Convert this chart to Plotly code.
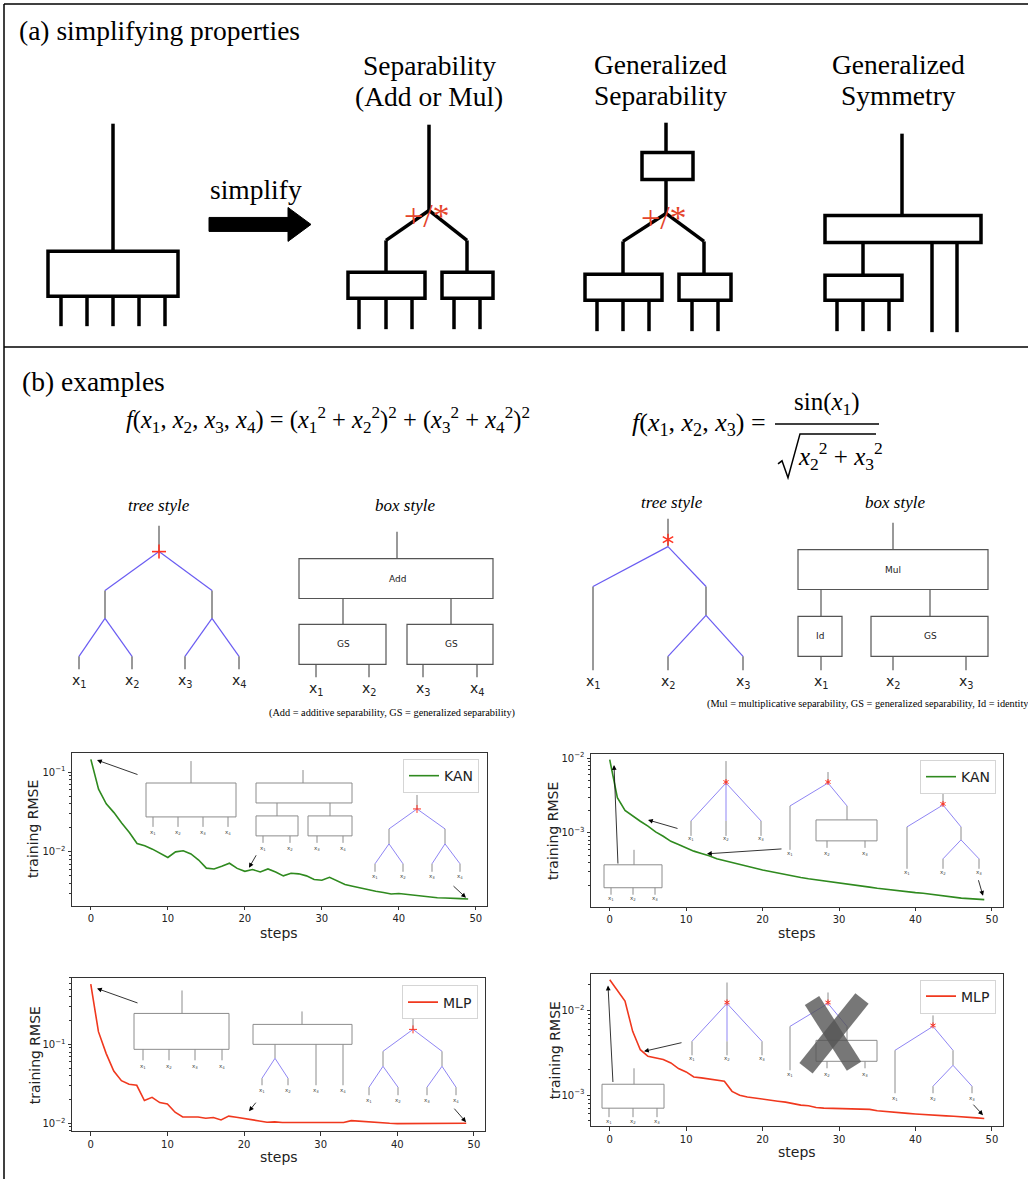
import plotly.graph_objects as go

W, H = 1028, 1179
SERIF = "Liberation Serif"
SANS = "DejaVu Sans"

# ---------------- data ----------------
steps = list(range(50))
x_ticks = [0, 10, 20, 30, 40, 50]

kan_sep = [0.144, 0.061, 0.040, 0.031, 0.023, 0.0175, 0.0127, 0.0119, 0.0108, 0.0096,
           0.0085, 0.0100, 0.0103, 0.0094, 0.0079, 0.00625, 0.0061, 0.0066, 0.0072, 0.0062,
           0.0057, 0.0060, 0.0056, 0.0061, 0.0056, 0.0050, 0.0054, 0.0053, 0.0050, 0.0045,
           0.0044, 0.0048, 0.0043, 0.0039, 0.0037, 0.0035, 0.00335, 0.0032, 0.0031, 0.00296,
           0.0030, 0.00293, 0.0028, 0.00277, 0.0027, 0.00266, 0.00264, 0.00259, 0.00259, 0.00256]

kan_sin = [0.0095, 0.00296, 0.0020, 0.00167, 0.00143, 0.00123, 0.00103, 0.00090, 0.00077, 0.00070,
           0.00063, 0.00057, 0.00053, 0.000495, 0.00045, 0.000425, 0.000403, 0.000375, 0.000352, 0.000335,
           0.000318, 0.000305, 0.00029, 0.000281, 0.000267, 0.000253, 0.000243, 0.000236, 0.000226, 0.000219,
           0.000212, 0.000206, 0.0002, 0.000194, 0.000188, 0.000182, 0.000177, 0.000169, 0.000166, 0.000163,
           0.000159, 0.000156, 0.000151, 0.000147, 0.000141, 0.000136, 0.000134, 0.000132, 0.000129, 0.000128]

mlp_sep = [0.58, 0.145, 0.077, 0.046, 0.0346, 0.0312, 0.0303, 0.0194, 0.0213, 0.0183,
           0.0176, 0.0138, 0.0120, 0.0119, 0.0120, 0.01156, 0.0118, 0.0110, 0.0123, 0.0119,
           0.01156, 0.0110, 0.0107, 0.0103, 0.0104, 0.0102, 0.0102, 0.0102, 0.0102, 0.0102,
           0.0102, 0.0102, 0.0102, 0.0102, 0.0108, 0.0106, 0.0104, 0.0103, 0.0100, 0.0100,
           0.0099, 0.0099, 0.0099, 0.0099, 0.0099, 0.0099, 0.0099, 0.0098, 0.0099, 0.0100]

mlp_sin = [0.0230, 0.0172, 0.0129, 0.00566, 0.00344, 0.00288, 0.00277, 0.00263, 0.0024, 0.00206,
           0.00188, 0.00164, 0.0016, 0.00156, 0.00151, 0.00146, 0.00111, 0.0010, 0.00095, 0.00092,
           0.000906, 0.000873, 0.00085, 0.000828, 0.00079, 0.000763, 0.00075, 0.000716, 0.000703, 0.0007,
           0.00069, 0.00069, 0.00069, 0.000685, 0.00068, 0.000654, 0.00064, 0.000636, 0.00062, 0.00061,
           0.0006, 0.00059, 0.000585, 0.00058, 0.00057, 0.000565, 0.00056, 0.00055, 0.00054, 0.00053]

# ---------------- helpers (pixel -> paper) ----------------
shapes, annotations = [], []


def X(x):
    return x / W


def Y(y):
    return 1 - y / H


def line(x0, y0, x1, y1, color="black", width=1.0):
    shapes.append(dict(type="line", xref="paper", yref="paper",
                       x0=X(x0), y0=Y(y0), x1=X(x1), y1=Y(y1),
                       line=dict(color=color, width=width)))


def rect(x0, y0, x1, y1, color="black", width=1.0, fill="rgba(0,0,0,0)"):
    shapes.append(dict(type="rect", xref="paper", yref="paper",
                       x0=X(x0), y0=Y(y1), x1=X(x1), y1=Y(y0),
                       line=dict(color=color, width=width), fillcolor=fill))


def path(points, fill="black", color="black", width=1.0, closed=True):
    d = "M " + " L ".join(f"{X(px)},{Y(py)}" for px, py in points) + (" Z" if closed else "")
    shapes.append(dict(type="path", xref="paper", yref="paper", path=d,
                       fillcolor=fill, line=dict(color=color, width=width)))


def text(x, y, s, size, family=SERIF, color="black", xanchor="center", yanchor="middle", angle=0):
    annotations.append(dict(xref="paper", yref="paper", x=X(x), y=Y(y), text=s, showarrow=False,
                            font=dict(size=size, family=family, color=color),
                            xanchor=xanchor, yanchor=yanchor, textangle=angle))


def arrow(xh, yh, xt, yt, width=0.8):
    annotations.append(dict(xref="paper", yref="paper", x=X(xh), y=Y(yh),
                            ax=xt - xh, ay=yt - yh, axref="pixel", ayref="pixel",
                            showarrow=True, arrowhead=2, arrowsize=1.2, arrowwidth=width,
                            arrowcolor="black", text="", standoff=0, startstandoff=0))


def plus(x, y, r, color, width):
    line(x - r, y, x + r, y, color, width)
    line(x, y - r, x, y + r, color, width)


def aster(x, y, r, color, width):
    line(x, y - r, x, y + r, color, width)
    line(x - 0.87 * r, y - 0.5 * r, x + 0.87 * r, y + 0.5 * r, color, width)
    line(x - 0.87 * r, y + 0.5 * r, x + 0.87 * r, y - 0.5 * r, color, width)


RED = "#e5452b"
TRED = "#ff3322"
BLUE = "#6a5cf2"
IBLUE = "#8f85f4"
DGRAY = "#555555"
IGRAY = "#8c8c8c"
TS = 27.5  # title font size

# ---------------- frame ----------------
line(4, 1, 1028, 1, "black", 1.5)
line(4, 1, 4, 1179, "black", 1.5)
line(4, 345, 1028, 345, "black", 1.5)

# ---------------- panel (a) ----------------
text(17, 28, "(a) simplifying properties", TS, xanchor="left")
LW = 3.5
# original
line(113, 121, 113, 249, width=LW)
rect(48, 249, 178, 294, width=LW)
for lx in [61, 87, 113, 139, 165]:
    line(lx, 294, lx, 324, width=LW)
# arrow
text(256, 187, "simplify", TS)
path([(209, 215), (288, 215), (288, 205), (311, 222), (288, 239), (288, 229), (209, 229)])
# separability
text(429, 63, "Separability", TS)
text(429, 94, "(Add or Mul)", TS)
line(429, 122, 429, 208, width=LW)
line(429, 208, 386, 238, width=LW); line(386, 238, 386, 270, width=LW)
line(429, 208, 467, 238, width=LW); line(467, 238, 467, 270, width=LW)
rect(348, 270, 425, 296, width=LW)
rect(442, 270, 493, 296, width=LW)
for lx in [359, 386, 412, 454, 480]:
    line(lx, 296, lx, 327, width=LW)
text(427, 213, "+/*", 34, color=RED)
# generalized separability
text(660, 62, "Generalized", TS)
text(660, 93, "Separability", TS)
line(666, 120, 666, 150, width=LW)
rect(642, 150, 693, 177, width=LW)
line(666, 177, 666, 211, width=LW)
line(666, 211, 623, 239, width=LW); line(623, 239, 623, 272, width=LW)
line(666, 211, 704, 239, width=LW); line(704, 239, 704, 272, width=LW)
rect(585, 272, 662, 298, width=LW)
rect(679, 272, 731, 298, width=LW)
for lx in [597, 623, 649, 692, 718]:
    line(lx, 298, lx, 329, width=LW)
text(664, 215, "+/*", 34, color=RED)
# generalized symmetry
text(898, 62, "Generalized", TS)
text(898, 93, "Symmetry", TS)
line(902, 131, 902, 213, width=LW)
rect(825, 213, 981, 240, width=LW)
line(863, 240, 863, 273, width=LW)
line(932, 240, 932, 330, width=LW)
line(957, 240, 957, 330, width=LW)
rect(825, 273, 902, 298, width=LW)
for lx in [837, 863, 889]:
    line(lx, 298, lx, 329, width=LW)

# ---------------- panel (b) ----------------
text(20, 379, "(b) examples", TS, xanchor="left")


def xl(i):
    return f"<i>x</i><sub>{i}</sub>"


f1 = ("<i>f</i>(" + ", ".join(xl(i) for i in [1, 2, 3, 4]) + ") = ("
      + xl(1) + "<sup>2</sup> + " + xl(2) + "<sup>2</sup>)<sup>2</sup> + ("
      + xl(3) + "<sup>2</sup> + " + xl(4) + "<sup>2</sup>)<sup>2</sup>")
text(328, 418, f1, 24.5)

f2 = "<i>f</i>(" + ", ".join(xl(i) for i in [1, 2, 3]) + ") ="
text(768, 422, f2, 26, xanchor="right")
text(827, 402, "sin(" + xl(1) + ")", 25)
line(775, 422, 879, 422, width=1.5)
path([(778, 462), (782, 459), (788, 476), (800, 432), (876, 432)], fill="rgba(0,0,0,0)", width=1.5, closed=False)
text(840, 454, xl(2) + "<sup>2</sup> + " + xl(3) + "<sup>2</sup>", 25)

# tree style 1
text(159, 504, "<i>tree style</i>", 17)
for seg in [(159, 524, 159, 550), (105, 589, 105, 617), (212, 589, 212, 617),
            (79, 655, 79, 668), (132, 655, 132, 668), (185, 655, 185, 668), (239, 655, 239, 668)]:
    line(*seg, DGRAY, 1.2)
for seg in [(159, 550, 105, 589), (159, 550, 212, 589), (105, 617, 79, 655), (105, 617, 132, 655),
            (212, 617, 185, 655), (212, 617, 239, 655)]:
    line(*seg, BLUE, 1.2)
plus(159, 550, 7, TRED, 1.6)
for i, lx in enumerate([79, 132, 185, 239]):
    text(lx, 680, f"x<sub>{i + 1}</sub>", 14, SANS, "#222")

# box style 1
text(405, 504, "<i>box style</i>", 17)
line(397, 530, 397, 557, DGRAY, 1.2)
rect(299, 557, 493, 597, DGRAY, 1.2)
text(397, 577, "Add", 9, SANS, "#222")
line(343, 597, 343, 623, DGRAY, 1.2)
line(451, 597, 451, 623, DGRAY, 1.2)
rect(299, 623, 386, 663, DGRAY, 1.2)
rect(407, 623, 493, 663, DGRAY, 1.2)
text(343, 643, "GS", 9, SANS, "#222")
text(451, 643, "GS", 9, SANS, "#222")
for i, lx in enumerate([316, 369, 423, 477]):
    line(lx, 663, lx, 676, DGRAY, 1.2)
    text(lx, 688, f"x<sub>{i + 1}</sub>", 14, SANS, "#222")
text(392, 712, "(Add = additive separability, GS = generalized separability)", 10.3)

# tree style 2
text(672, 501, "<i>tree style</i>", 17)
for seg in [(668, 517, 668, 545), (593, 585, 593, 669), (706, 585, 706, 614),
            (668, 655, 668, 669), (743, 655, 743, 669)]:
    line(*seg, DGRAY, 1.2)
for seg in [(668, 545, 593, 585), (668, 545, 706, 585), (706, 614, 668, 655), (706, 614, 743, 655)]:
    line(*seg, BLUE, 1.2)
aster(668, 538, 6, TRED, 1.5)
for i, lx in enumerate([593, 668, 743]):
    text(lx, 681, f"x<sub>{i + 1}</sub>", 14, SANS, "#222")

# box style 2
text(895, 501, "<i>box style</i>", 17)
line(893, 521, 893, 548, DGRAY, 1.2)
rect(798, 548, 988, 588, DGRAY, 1.2)
text(893, 568, "Mul", 9, SANS, "#222")
line(821, 588, 821, 615, DGRAY, 1.2)
line(930, 588, 930, 615, DGRAY, 1.2)
rect(798, 615, 842, 655, DGRAY, 1.2)
rect(871, 615, 988, 655, DGRAY, 1.2)
text(820, 635, "Id", 9, SANS, "#222")
text(930, 635, "GS", 9, SANS, "#222")
for i, lx in enumerate([821, 893, 966]):
    line(lx, 655, lx, 669, DGRAY, 1.2)
    text(lx, 681, f"x<sub>{i + 1}</sub>", 14, SANS, "#222")
text(705, 703, "(Mul = multiplicative separability, GS = generalized separability, Id = identity", 10.3,
     xanchor="left")


# ---------------- insets inside the charts ----------------
def ilab(x, y, i):
    text(x, y, f"x<sub>{i}</sub>", 5.5, SANS, "#444")


def gl(*seg):
    line(*seg, IGRAY, 1.0)


def bl(*seg):
    line(*seg, IBLUE, 1.0)


# chart 1 insets
gl(191, 760, 191, 782); rect(146, 782, 236, 816, IGRAY, 1.0)
for i, lx in enumerate([153, 178, 203, 228]):
    gl(lx, 816, lx, 826); ilab(lx, 832, i + 1)
arrow(97, 759, 139, 774)
gl(303, 769, 303, 782); rect(256, 782, 352, 802, IGRAY, 1.0)
gl(277, 802, 277, 815); gl(330, 802, 330, 815)
rect(256, 815, 298, 835, IGRAY, 1.0); rect(308, 815, 352, 835, IGRAY, 1.0)
for i, lx in enumerate([263, 290, 317, 343]):
    gl(lx, 835, lx, 842); ilab(lx, 848, i + 1)
arrow(249, 867, 257, 853)
gl(417, 794, 417, 808)
bl(417, 808, 389, 828); bl(417, 808, 445, 828)
gl(389, 828, 389, 843); gl(445, 828, 445, 843)
bl(389, 843, 375, 863); bl(389, 843, 403, 863); bl(445, 843, 432, 863); bl(445, 843, 460, 863)
for i, lx in enumerate([375, 403, 432, 460]):
    gl(lx, 863, lx, 871); ilab(lx, 876, i + 1)
plus(417, 808, 4, TRED, 1.0)
arrow(466, 897, 452, 884)

# chart 2 insets
gl(634, 849, 634, 864); rect(604, 864, 662, 887, IGRAY, 1.0)
for i, lx in enumerate([611, 633, 655]):
    gl(lx, 887, lx, 894); ilab(lx, 898, i + 1)
arrow(614, 764, 618, 864)
gl(726, 760, 726, 782)
bl(726, 782, 691, 820); bl(726, 782, 726, 820); bl(726, 782, 761, 820)
for i, lx in enumerate([691, 726, 761]):
    gl(lx, 820, lx, 835); ilab(lx, 838, i + 1)
aster(726, 781, 3, TRED, 1.0)
arrow(648, 819, 679, 828)
gl(828, 771, 828, 782)
bl(828, 782, 790, 805); bl(828, 782, 847, 805)
gl(790, 805, 790, 849); gl(847, 805, 847, 819)
rect(816, 819, 877, 840, IGRAY, 1.0)
gl(827, 840, 827, 847); gl(865, 840, 865, 847)
ilab(790, 853, 1); ilab(827, 853, 2); ilab(865, 853, 3)
aster(828, 781, 3, TRED, 1.0)
arrow(707, 853, 783, 848)
gl(943, 792, 943, 804)
bl(943, 804, 907, 826); bl(943, 804, 961, 826)
gl(907, 826, 907, 868); gl(961, 826, 961, 839)
bl(961, 839, 943, 858); bl(961, 839, 979, 858)
gl(943, 858, 943, 868); gl(979, 858, 979, 868)
for i, lx in enumerate([907, 943, 979]):
    ilab(lx, 872, i + 1)
aster(943, 803, 3, TRED, 1.0)
arrow(983, 895, 978, 878)

# chart 3 insets
gl(182, 990, 182, 1013); rect(134, 1013, 229, 1049, IGRAY, 1.0)
for i, lx in enumerate([143, 169, 195, 222]):
    gl(lx, 1049, lx, 1060); ilab(lx, 1066, i + 1)
arrow(97, 988, 139, 1003)
gl(302, 1011, 302, 1024); rect(253, 1024, 352, 1044, IGRAY, 1.0)
gl(275, 1044, 275, 1058)
bl(275, 1058, 262, 1078); bl(275, 1058, 288, 1078)
gl(262, 1078, 262, 1085); gl(288, 1078, 288, 1085)
gl(316, 1044, 316, 1085); gl(343, 1044, 343, 1085)
for i, lx in enumerate([262, 288, 316, 343]):
    ilab(lx, 1090, i + 1)
arrow(249, 1111, 257, 1101)
gl(413, 1015, 413, 1029)
bl(413, 1029, 383, 1051); bl(413, 1029, 442, 1051)
gl(383, 1051, 383, 1066); gl(442, 1051, 442, 1066)
bl(383, 1066, 369, 1087); bl(383, 1066, 398, 1087); bl(442, 1066, 427, 1087); bl(442, 1066, 456, 1087)
for i, lx in enumerate([369, 398, 427, 456]):
    gl(lx, 1087, lx, 1095); ilab(lx, 1100, i + 1)
plus(413, 1029, 4, TRED, 1.0)
arrow(466, 1122, 453, 1107)

# chart 4 insets
gl(634, 1068, 634, 1084); rect(602, 1084, 664, 1108, IGRAY, 1.0)
for i, lx in enumerate([609, 633, 657]):
    gl(lx, 1108, lx, 1117); ilab(lx, 1121, i + 1)
arrow(608, 985, 613, 1083)
gl(727, 982, 727, 1003)
bl(727, 1003, 692, 1041); bl(727, 1003, 727, 1041); bl(727, 1003, 762, 1041)
for i, lx in enumerate([692, 727, 762]):
    gl(lx, 1041, lx, 1055); ilab(lx, 1058, i + 1)
aster(727, 1002, 3, TRED, 1.0)
arrow(644, 1051, 683, 1042)
gl(828, 992, 828, 1003)
bl(828, 1003, 790, 1026); bl(828, 1003, 847, 1026)
gl(790, 1026, 790, 1070); gl(847, 1026, 847, 1040)
rect(816, 1040, 877, 1061, IGRAY, 1.0)
gl(827, 1061, 827, 1068); gl(865, 1061, 865, 1068)
ilab(790, 1074, 1); ilab(827, 1074, 2); ilab(865, 1074, 3)
aster(828, 1002, 3, TRED, 1.0)
line(812, 1000, 854, 1066, "rgba(85,85,85,0.8)", 17)
line(862, 998, 806, 1068, "rgba(85,85,85,0.8)", 17)
gl(933, 1015, 933, 1026)
bl(933, 1026, 895, 1050); bl(933, 1026, 953, 1050)
gl(895, 1050, 895, 1093); gl(953, 1050, 953, 1065)
bl(953, 1065, 933, 1086); bl(953, 1065, 972, 1086)
gl(933, 1086, 933, 1093); gl(972, 1086, 972, 1093)
for i, lx in enumerate([895, 933, 972]):
    ilab(lx, 1098, i + 1)
aster(933, 1025, 3, TRED, 1.0)
arrow(983, 1115, 972, 1103)

# axis titles
for (tx, ty) in [(33, 828), (553, 830), (35, 1055), (555, 1050)]:
    text(tx, ty, "training RMSE", 14, SANS, "#222", angle=-90)
for (tx, ty) in [(279, 932), (797, 932), (279, 1157), (797, 1152)]:
    text(tx, ty, "steps", 14, SANS, "#222")

# ---------------- traces ----------------
GREEN = "#2f8a1f"
LRED = "#f0381e"
fig = go.Figure()
fig.add_trace(go.Scatter(x=steps, y=kan_sep, mode="lines", name="KAN", line=dict(color=GREEN, width=1.6),
                         xaxis="x", yaxis="y", legend="legend", showlegend=True))
fig.add_trace(go.Scatter(x=steps, y=kan_sin, mode="lines", name="KAN", line=dict(color=GREEN, width=1.6),
                         xaxis="x2", yaxis="y2", legend="legend2", showlegend=True))
fig.add_trace(go.Scatter(x=steps, y=mlp_sep, mode="lines", name="MLP", line=dict(color=LRED, width=1.6),
                         xaxis="x3", yaxis="y3", legend="legend3", showlegend=True))
fig.add_trace(go.Scatter(x=steps, y=mlp_sin, mode="lines", name="MLP", line=dict(color=LRED, width=1.6),
                         xaxis="x4", yaxis="y4", legend="legend4", showlegend=True))

minor_vals = [m * 10.0 ** e for e in range(-5, 1) for m in range(2, 10)]
AX = "#333333"


def xax(x0, x1, y0, y1, anchor):
    return dict(domain=[X(x0), X(x1)], anchor=anchor, range=[-2.45, 51.45], tickvals=x_ticks,
                ticks="outside", ticklen=3.5, tickwidth=0.8, tickcolor=AX, showline=True,
                linecolor=AX, linewidth=1, mirror=True, showgrid=False, zeroline=False,
                tickfont=dict(size=10, family=SANS, color="#222"))


def yax(y0, y1, anchor, rng, tv, tt):
    return dict(domain=[Y(y1), Y(y0)], anchor=anchor, type="log", range=rng, tickvals=tv, ticktext=tt,
                ticks="outside", ticklen=3.5, tickwidth=0.8, tickcolor=AX, showline=True,
                linecolor=AX, linewidth=1, mirror=True, showgrid=False, zeroline=False,
                minor=dict(ticks="outside", ticklen=2, tickwidth=0.6, tickcolor=AX, tickvals=minor_vals),
                tickfont=dict(size=10, family=SANS, color="#222"))


def leg(xr, yt):
    return dict(x=X(xr), y=Y(yt), xanchor="right", yanchor="top", bgcolor="white",
                bordercolor="#d5d5d5", borderwidth=1, font=dict(size=14, family=SANS, color="#222"),
                itemwidth=30)


fig.update_layout(
    width=W, height=H, margin=dict(l=0, r=0, t=0, b=0),
    paper_bgcolor="white", plot_bgcolor="white", showlegend=True,
    xaxis=xax(72, 487, 752, 905, "y"),
    yaxis=yax(752, 905, "x", [-2.675, -0.7625], [0.1, 0.01], ["10<sup>−1</sup>", "10<sup>−2</sup>"]),
    xaxis2=xax(591, 1003, 753, 906, "y2"),
    yaxis2=yax(753, 906, "x2", [-3.987, -1.947], [0.01, 0.001], ["10<sup>−2</sup>", "10<sup>−3</sup>"]),
    xaxis3=xax(72, 485, 977, 1131, "y3"),
    yaxis3=yax(977, 1131, "x3", [-2.10, -0.152], [0.1, 0.01], ["10<sup>−1</sup>", "10<sup>−2</sup>"]),
    xaxis4=xax(591, 1003, 973, 1126, "y4"),
    yaxis4=yax(973, 1126, "x4", [-3.365, -1.565], [0.01, 0.001], ["10<sup>−2</sup>", "10<sup>−3</sup>"]),
    legend=leg(479, 758), legend2=leg(996, 759), legend3=leg(478, 985), legend4=leg(996, 979),
    shapes=shapes, annotations=annotations,
)

fig.write_html("out.html", config={"displayModeBar": False},
               post_script="document.body.style.margin='0';document.body.style.overflow='hidden';")
